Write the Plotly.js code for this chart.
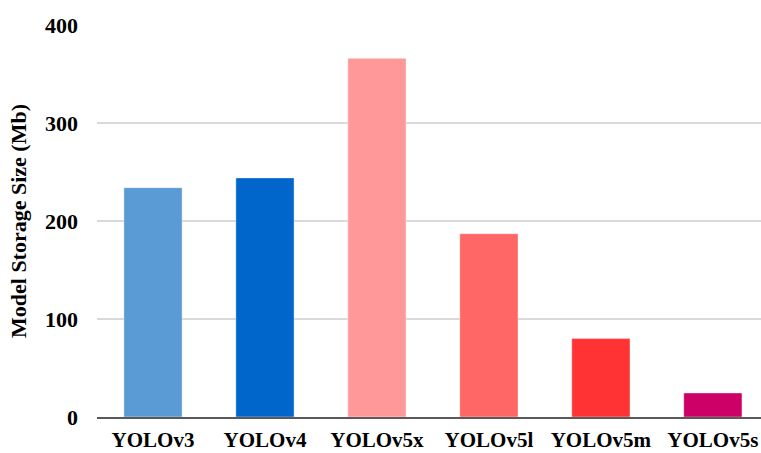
<!DOCTYPE html>
<html>
<head>
<meta charset="utf-8">
<script src="https://cdn.plot.ly/plotly-3.0.1.min.js"></script>
<style>html,body{margin:0;padding:0;background:#fff;}#chart{width:761px;height:453px;}</style>
</head>
<body>
<div id="chart"></div>
<script>
const models = ["YOLOv3", "YOLOv4", "YOLOv5x", "YOLOv5l", "YOLOv5m", "YOLOv5s"];
const storageMb = [234, 244, 366, 187, 80, 24.5];
const barColors = ["#5B9BD5", "#0066CC", "#FF9999", "#FF6666", "#FF3333", "#CC0066"];
const yTicks = [0, 100, 200, 300, 400];

const fam = "Liberation Serif, Times New Roman, serif";

Plotly.newPlot("chart", [{
  type: "bar",
  x: models,
  y: storageMb,
  marker: {color: barColors, line: {color: "rgba(255,255,255,0.4)", width: 1}},
  width: 0.52,
  hoverinfo: "skip"
}], {
  width: 761, height: 453,
  margin: {l: 97, r: 0, t: 25, b: 36},
  paper_bgcolor: "#fff", plot_bgcolor: "#fff",
  showlegend: false,
  font: {family: fam, size: 18, color: "#000", weight: "bold"},
  xaxis: {
    range: [-0.5, 5.43],
    showgrid: false,
    showline: true, linecolor: "#595959", linewidth: 1.5,
    ticks: "", ticklabelstandoff: 3,
    tickfont: {family: fam, size: 21, color: "#000", weight: "bold"}
  },
  yaxis: {
    range: [0, 400],
    tickvals: yTicks,
    showgrid: true, gridcolor: "#d9d9d9", gridwidth: 1.3,
    zeroline: false, showline: false,
    ticks: "", ticklabelstandoff: 18,
    tickfont: {family: fam, size: 22, color: "#000", weight: "bold"},
    title: {text: "Model Storage Size (Mb)", standoff: 12,
      font: {family: fam, size: 22, color: "#000", weight: "bold"}}
  }
}, {displayModeBar: false, staticPlot: true});
</script>
</body>
</html>
